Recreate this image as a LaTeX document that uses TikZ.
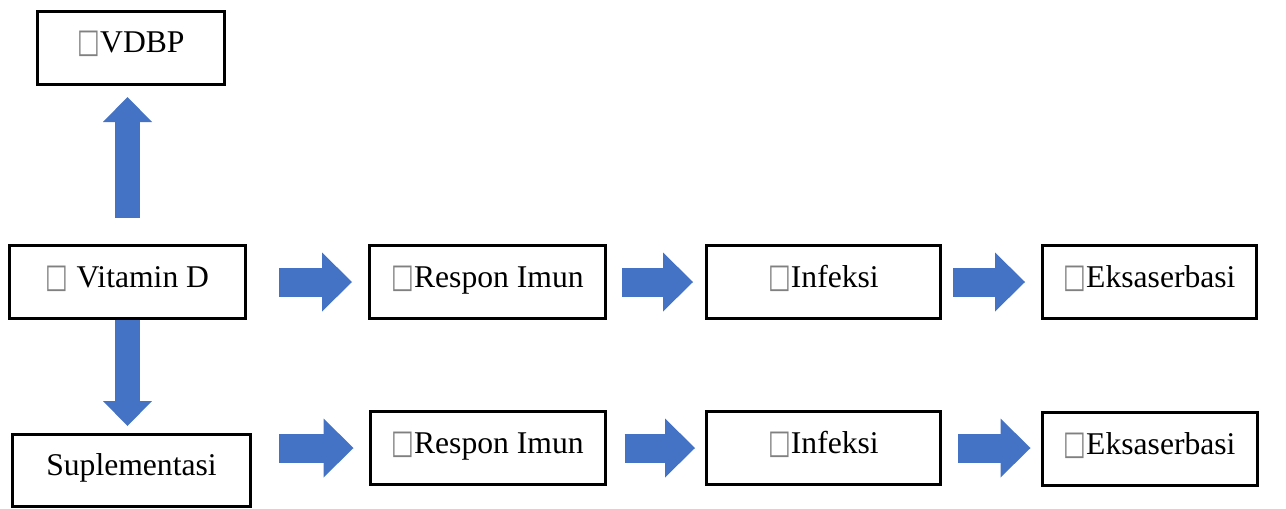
\documentclass[tikz,border=0pt]{standalone}
\usepackage{fontspec}
\setmainfont{Liberation Serif}
\newfontfamily\glyphfont[FakeStretch=0.72]{DejaVu Sans}
\usetikzlibrary{positioning,arrows.meta}
\definecolor{flowblue}{RGB}{68,114,196}
\newcommand{\blankbox}{{\glyphfont\fontsize{19}{19}\selectfont\color{black!50}□}}

\begin{document}
\begin{tikzpicture}[
  node distance=1.8cm and 2cm,
  box/.style={draw=black,line width=0.06cm,fill=white,
              minimum width=4.72cm,minimum height=1.46cm,
              text height=0.45cm,text depth=0.25cm,font=\fontsize{18}{21}\selectfont},
  harrow/.style={flowblue,line width=0.58cm,
                 -{Triangle[width=1.18cm,length=0.6cm,line width=0pt]}},
  varrow/.style={flowblue,line width=0.49cm,
                 -{Triangle[width=0.98cm,length=0.5cm,line width=0pt]}}
]
  \useasboundingbox (0,0) rectangle (25.72,-10.16);

  % left column
  \node[box] (vitd) at (2.55,-5.64) {\blankbox\ Vitamin D};
  \node[box, above=3.16cm of vitd, xshift=0.07cm, minimum width=3.74cm] (vdbp) {\blankbox VDBP};
  \node[box, below=2.26cm of vitd, xshift=0.08cm, minimum width=4.76cm, minimum height=1.44cm] (supl) {Suplementasi};

  % upper chain
  \node[box, right=2.42cm of vitd] (resp1) {\blankbox Respon Imun};
  \node[box, right=1.96cm of resp1, minimum width=4.68cm] (inf1) {\blankbox Infeksi};
  \node[box, right=1.98cm of inf1, minimum width=4.28cm] (eks1) {\blankbox Eksaserbasi};

  % lower chain
  \node[box, below=of resp1, minimum width=4.70cm] (resp2) {\blankbox Respon Imun};
  \node[box, below=of inf1, minimum width=4.68cm] (inf2) {\blankbox Infeksi};
  \node[box, below=1.82cm of eks1, minimum width=4.30cm] (eks2) {\blankbox Eksaserbasi};

  \draw[varrow, shorten <=0.52cm, shorten >=0.22cm] (vitd.north) -- (vitd.north |- vdbp.south);
  \draw[varrow, shorten >=0.14cm] (vitd.south) -- (vitd.south |- supl.north);

  \draw[harrow, shorten <=0.64cm, shorten >=0.32cm] (vitd.east) -- (resp1.west);
  \draw[harrow, shorten <=0.30cm, shorten >=0.24cm] (resp1.east) -- (resp1.east -| inf1.west);
  \draw[harrow, shorten <=0.22cm, shorten >=0.32cm] (inf1.east) -- (inf1.east -| eks1.west);

  \draw[harrow, shorten <=0.54cm, shorten >=0.30cm] (supl.east |- resp2.west) -- (resp2.west);
  \draw[harrow, shorten <=0.36cm, shorten >=0.20cm] (resp2.east) -- (resp2.east -| inf2.west);
  \draw[harrow, shorten <=0.32cm, shorten >=0.20cm] (inf2.east) -- (inf2.east -| eks2.west);
\end{tikzpicture}
\end{document}
